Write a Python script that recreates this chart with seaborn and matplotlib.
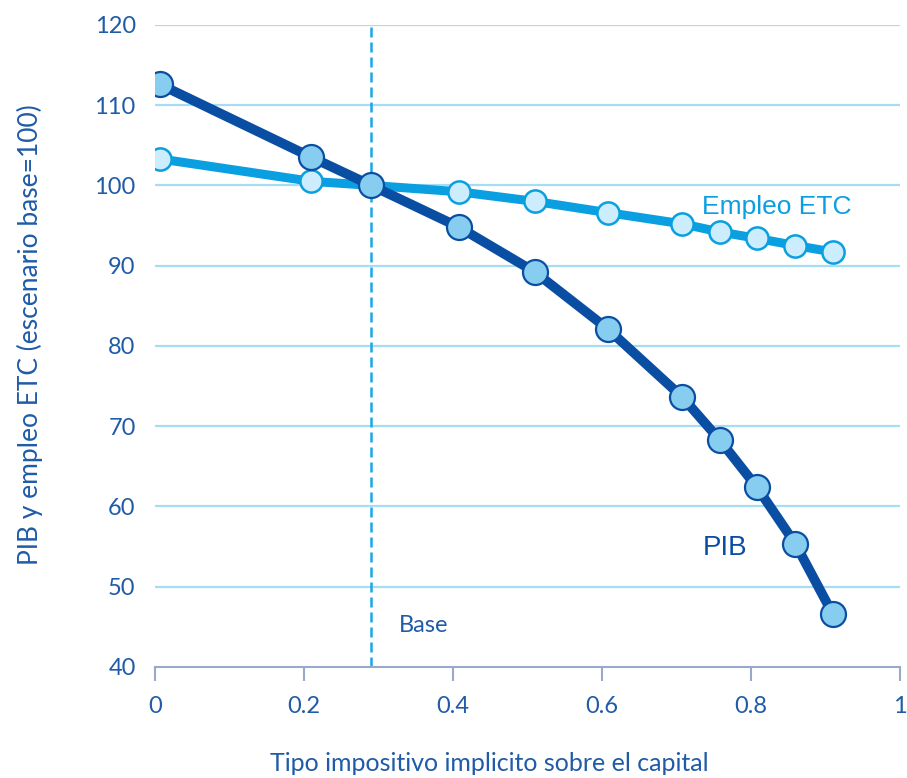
import matplotlib
matplotlib.use("Agg")
import matplotlib.pyplot as plt
import seaborn as sns
import pandas as pd

# Data
tax_rate = [0.006, 0.21, 0.29, 0.408, 0.51, 0.608, 0.708, 0.758, 0.808, 0.86, 0.91]
pib = [112.6, 103.5, 100.0, 94.8, 89.2, 82.1, 73.6, 68.3, 62.4, 55.3, 46.6]
empleo = [103.3, 100.5, 100.0, 99.2, 98.0, 96.6, 95.2, 94.2, 93.4, 92.5, 91.7]
base_rate = 0.29
x_ticks = [0, 0.2, 0.4, 0.6, 0.8, 1]
x_tick_labels = ["0", "0.2", "0.4", "0.6", "0.8", "1"]
y_ticks = [40, 50, 60, 70, 80, 90, 100, 110, 120]

sns.set_theme(style="white")
plt.rcParams['font.family'] = ['Lato', 'DejaVu Sans']

TEXT = "#1F5BA8"
DARK = "#0A4EA3"
LIGHT = "#0A9FE0"
GRID = "#A6DCF4"

df = pd.DataFrame({"x": tax_rate, "PIB": pib, "Empleo": empleo})

fig = plt.figure(figsize=(9.07, 7.78), dpi=100)
ax = fig.add_axes([0.171, 0.143, 0.821, 0.825])

for y in y_ticks[1:]:
    ax.axhline(y, color=GRID, lw=1.6, zorder=0)

ax.axvline(base_rate, color="#1AA6E8", lw=1.8, ls=(0, (4, 2)), zorder=1)

sns.lineplot(data=df, x="x", y="Empleo", ax=ax, color=LIGHT, lw=6.5,
             marker="o", markersize=16, markerfacecolor="#CBEDFD",
             markeredgecolor=LIGHT, markeredgewidth=1.8, zorder=3)
sns.lineplot(data=df, x="x", y="PIB", ax=ax, color=DARK, lw=7,
             marker="o", markersize=18, markerfacecolor="#86CDF0",
             markeredgecolor=DARK, markeredgewidth=1.6, zorder=4)

ax.set_xlim(0, 1)
ax.set_ylim(40, 120)
ax.set_xticks(x_ticks)
ax.set_xticklabels(x_tick_labels)
ax.set_yticks(y_ticks)

for s in ["top", "right", "left"]:
    ax.spines[s].set_visible(False)
ax.spines["bottom"].set_color("#9AA8CC")
ax.spines["bottom"].set_linewidth(1.5)
ax.spines["bottom"].set_zorder(2)

ax.tick_params(axis="x", direction="out", length=10, width=1.5, color="#9AA8CC",
               labelsize=17, labelcolor=TEXT, pad=11, bottom=True)
ax.tick_params(axis="y", length=0, labelsize=17, labelcolor=TEXT, pad=14)

ax.set_xlabel("Tipo impositivo implicito sobre el capital", fontsize=18, color=TEXT)
ax.xaxis.set_label_coords((489 - 155) / 745, -(763 - 666.7) / 642.0)
ax.xaxis.label.set_va("center")
ax.set_ylabel("PIB y empleo ETC (escenario base=100)", fontsize=19, color=TEXT)
ax.yaxis.set_label_coords(-(155 - 30) / 745, (666.7 - 335) / 642.0)
ax.yaxis.label.set_va("center")

ax.text(0.735, 97.3, "Empleo ETC", fontsize=19, color=LIGHT,
        family=['Liberation Sans', 'DejaVu Sans'], va="center", ha="left")
ax.text(0.735, 54.8, "PIB", fontsize=20, color=DARK,
        family=['Liberation Sans', 'DejaVu Sans'], va="center", ha="left")
ax.text(0.328, 45.2, "Base", fontsize=17, color=TEXT, va="center", ha="left")

fig.savefig("out.png", dpi=100)
